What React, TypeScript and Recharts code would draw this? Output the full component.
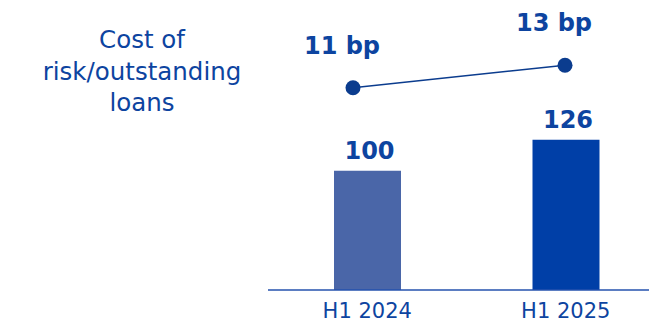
import React from "react";
import { ComposedChart, Bar, Line, XAxis, YAxis, LabelList, Customized, Cell } from "recharts";

const categories = ["H1 2024", "H1 2025"];
const volumeIndex = [100, 126];
const costOfRiskBp = [11, 13];
const titleLines = ["Cost of", "risk/outstanding", "loans"];
const barColors = ["#4A66A8", "#003FA7"];

const data = categories.map((cat, i) => ({ cat, vol: volumeIndex[i], cor: costOfRiskBp[i] }));

const TEXT = "#0D44A0";
const DARK = "#0B3C8E";
const FONT = "'DejaVu Sans', sans-serif";

const BarLabel = (props: any) => {
  const { x, y, width, value } = props;
  return (
    <text x={x + width / 2 + 2} y={y - 12} textAnchor="middle" fill={TEXT} fontFamily={FONT} fontWeight="bold" fontSize={24}>
      {value}
    </text>
  );
};

const LineLabel = (props: any) => {
  const { x, y, value } = props;
  return (
    <text x={x - 11} y={y - 34} textAnchor="middle" fill={TEXT} fontFamily={FONT} fontWeight="bold" fontSize={24}>
      {`${value} bp`}
    </text>
  );
};

const Title = () => (
  <g>
    {titleLines.map((t, i) => (
      <text key={t} x={142} y={48 + i * 31.5} textAnchor="middle" fill={TEXT} fontFamily={FONT} fontSize={24.5}>
        {t}
      </text>
    ))}
  </g>
);

export default function App() {
  return (
    <div style={{ position: "absolute", left: 0, top: 0, width: 649, height: 322, overflow: "hidden", background: "#fff" }}>
      <ComposedChart width={665} height={322} data={data} margin={{ top: 0, right: 0, left: 268, bottom: 0 }}>
        <XAxis
          xAxisId="bar"
          dataKey="cat"
          height={32}
          axisLine={{ stroke: "#2452AE", strokeWidth: 1.5 }}
          tickLine={false}
          tickMargin={7}
          tick={{ fill: TEXT, fontSize: 21, fontFamily: FONT }}
        />
        <XAxis xAxisId="line" dataKey="cat" scale="point" padding={{ left: 85, right: 100 }} hide />
        <YAxis yAxisId="bar" domain={[0, 243]} allowDataOverflow hide />
        <YAxis yAxisId="line" orientation="right" domain={[-7.06, 18.83]} allowDataOverflow hide />
        <Customized component={Title} />
        <Bar xAxisId="bar" yAxisId="bar" dataKey="vol" barSize={67} isAnimationActive={false}>
          {data.map((d, i) => (
            <Cell key={d.cat} fill={barColors[i]} />
          ))}
          <LabelList dataKey="vol" content={BarLabel} />
        </Bar>
        <Line
          xAxisId="line"
          yAxisId="line"
          dataKey="cor"
          stroke={DARK}
          strokeWidth={1.5}
          dot={{ r: 7.5, fill: DARK, stroke: "none" }}
          isAnimationActive={false}
        >
          <LabelList dataKey="cor" content={LineLabel} />
        </Line>
      </ComposedChart>
    </div>
  );
}
